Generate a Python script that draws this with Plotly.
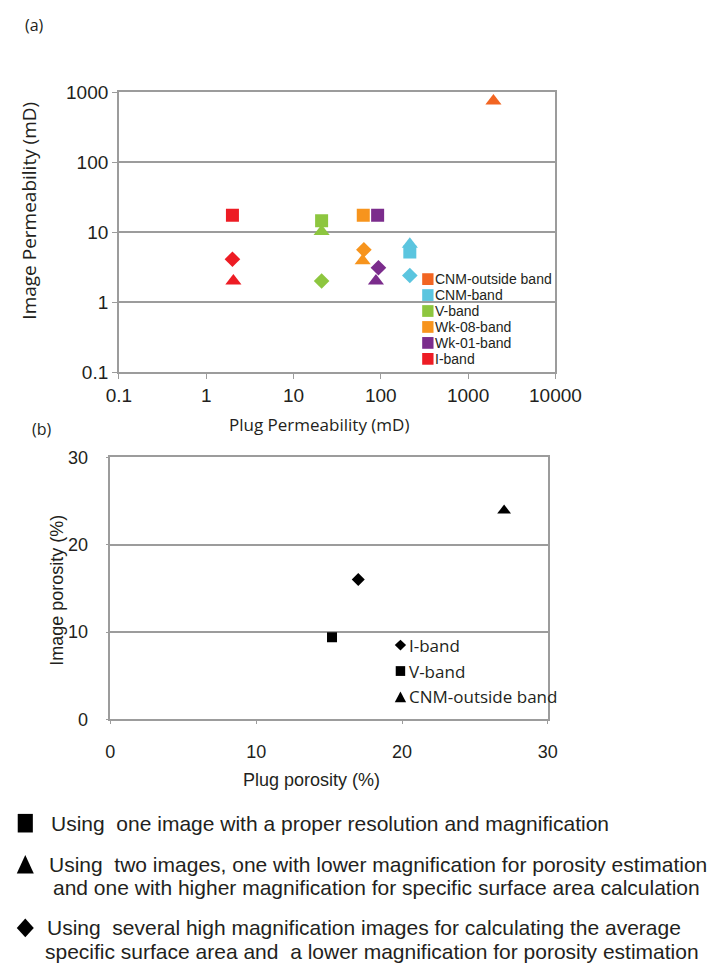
import plotly.graph_objects as go

# ---------------------------------------------------------------
# (a) Plug vs image permeability, one colour per band,
#     marker symbol = imaging method used for the estimate
# ---------------------------------------------------------------
perm_bands = ["CNM-outside band", "CNM-band", "V-band", "Wk-08-band", "Wk-01-band", "I-band"]
perm_colors = ["#F26522", "#5BC5DF", "#8DC63F", "#F7941D", "#7B2C8C", "#ED1C24"]
perm_plug = [
    [1950],
    [215, 215, 215],
    [21, 21, 21],
    [63, 64, 62],
    [92, 94, 88],
    [2.0, 2.0, 2.05],
]
perm_image = [
    [750],
    [6.7, 5.2, 2.4],
    [14.5, 10.2, 2.0],
    [17.5, 5.6, 3.9],
    [17.5, 3.1, 2.0],
    [17.5, 4.1, 2.0],
]
perm_method = [
    ["triangle-up"],
    ["triangle-up", "square", "diamond"],
    ["square", "triangle-up", "diamond"],
    ["square", "diamond", "triangle-up"],
    ["square", "diamond", "triangle-up"],
    ["square", "diamond", "triangle-up"],
]
perm_ticks = [0.1, 1, 10, 100, 1000, 10000]
perm_ticktext = ["0.1", "1", "10", "100", "1000", "10000"]
img_perm_ticks = [0.1, 1, 10, 100, 1000]
img_perm_ticktext = ["0.1", "1", "10", "100", "1000"]

# ---------------------------------------------------------------
# (b) Plug vs image porosity
# ---------------------------------------------------------------
por_bands = ["I-band", "V-band", "CNM-outside band"]
por_plug = [17.0, 15.2, 27.0]
por_image = [16.0, 9.4, 23.9]
por_method = ["diamond", "square", "triangle-up"]
por_ticks = [0, 10, 20, 30]

# ---------------------------------------------------------------
# Imaging methods explained under the plots
# ---------------------------------------------------------------
method_symbols = ["square", "triangle-up", "diamond"]
method_lines = [
    ["Using\u00a0 one image with a proper resolution and magnification"],
    ["Using\u00a0 two images, one with lower magnification for porosity estimation",
     "and one with higher magnification for specific surface area calculation"],
    ["Using\u00a0 several high magnification images for calculating the average",
     "specific surface area and\u00a0 a lower magnification for porosity estimation"],
]

# ---------------------------------------------------------------
# page geometry: layout positions below are in pixels
# ---------------------------------------------------------------
W, H = 709, 980


def fx(x):
    return x / W


def fy(y):
    return 1 - y / H


GRID = "#9c9c9c"
INK = "#231F20"
HUMANIST = "Open Sans"
GROTESK = "Liberation Sans"

SYM_SIZE_A = {"square": 13, "triangle-up": 14, "diamond": 12}
SYM_SIZE_B = {"square": 10, "triangle-up": 12, "diamond": 10}

fig = go.Figure()

for band, color, xs, ys, syms in zip(perm_bands, perm_colors, perm_plug, perm_image, perm_method):
    fig.add_trace(go.Scatter(
        x=xs, y=ys, mode="markers", name=band,
        marker=dict(symbol=syms, color=color, opacity=1,
                    size=[SYM_SIZE_A[s] for s in syms], line=dict(width=0)),
        xaxis="x", yaxis="y", showlegend=False,
    ))

for band, xv, yv, sym in zip(por_bands, por_plug, por_image, por_method):
    fig.add_trace(go.Scatter(
        x=[xv], y=[yv], mode="markers", name=band,
        marker=dict(symbol=sym, color="#000000", opacity=1,
                    size=SYM_SIZE_B[sym], line=dict(width=0)),
        xaxis="x2", yaxis="y2", showlegend=False,
    ))

axis_common = dict(
    showline=True, linecolor=GRID, linewidth=1.5, mirror=True,
    zeroline=False, ticks="outside", tickcolor=GRID, tickwidth=1.2,
)

fig.update_layout(
    width=W, height=H,
    margin=dict(l=0, r=0, t=0, b=0),
    paper_bgcolor="white", plot_bgcolor="white",
    showlegend=False,
    xaxis=dict(
        domain=[fx(112), fx(574)], anchor="y", type="log", range=[-1, 4],
        tickvals=perm_ticks, ticktext=perm_ticktext, ticklen=5,
        showgrid=False, tickfont=dict(family=GROTESK, size=19, color=INK),
        **axis_common,
    ),
    yaxis=dict(
        domain=[fy(370), fy(84)], anchor="x", type="log", range=[-1, 3],
        tickvals=img_perm_ticks, ticktext=img_perm_ticktext, ticklen=5,
        showgrid=True, gridcolor=GRID, gridwidth=1.5,
        tickfont=dict(family=GROTESK, size=19, color=INK),
        **axis_common,
    ),
    xaxis2=dict(
        domain=[fx(103), fx(566)], anchor="y2", range=[0, 30],
        tickvals=por_ticks, ticklen=3, ticklabelstandoff=12,
        showgrid=False, tickfont=dict(family=GROTESK, size=18, color=INK),
        **axis_common,
    ),
    yaxis2=dict(
        domain=[fy(725), fy(457)], anchor="x2", range=[0, 30],
        tickvals=por_ticks, ticklen=3, ticklabelstandoff=14,
        showgrid=True, gridcolor=GRID, gridwidth=1.5,
        tickfont=dict(family=GROTESK, size=18, color=INK),
        **axis_common,
    ),
)

annotations = []
shapes = []


def label(text, x, y, size, family=HUMANIST, xanchor="left", angle=0):
    annotations.append(dict(
        text=text, x=fx(x), y=fy(y), xref="paper", yref="paper",
        xanchor=xanchor, yanchor="middle", showarrow=False, textangle=angle,
        font=dict(family=family, size=size, color=INK),
    ))


def key_symbol(sym, cx, cy, w, h, color):
    if sym == "square":
        shapes.append(dict(type="rect", xref="paper", yref="paper",
                           x0=fx(cx - w / 2), x1=fx(cx + w / 2),
                           y0=fy(cy + h / 2), y1=fy(cy - h / 2),
                           fillcolor=color, line=dict(width=0)))
        return
    if sym == "triangle-up":
        pts = [(cx - w / 2, cy + h / 2), (cx + w / 2, cy + h / 2), (cx, cy - h / 2)]
    else:
        pts = [(cx - w / 2, cy), (cx, cy + h / 2), (cx + w / 2, cy), (cx, cy - h / 2)]
    path = "M " + " L ".join(f"{fx(px):.5f},{fy(py):.5f}" for px, py in pts) + " Z"
    shapes.append(dict(type="path", xref="paper", yref="paper", path=path,
                       fillcolor=color, line=dict(width=0)))


# panel letters
label("(a)", 11, 15, 16)
label("(b)", 18, 428, 16)

# axis titles
label("Image Permeability (mD)", 17, 205, 19, angle=-90, xanchor="center")
label("Plug Permeability (mD)", 324, 424, 17, xanchor="center")
label("Image porosity (%)", 47, 593, 18, family=GROTESK, angle=-90, xanchor="center")
label("Plug porosity (%)", 316, 787, 18, family=GROTESK, xanchor="center")

# key for panel (a)
for i, (band, color) in enumerate(zip(perm_bands, perm_colors)):
    row_y = 275 + i * 16.3
    key_symbol("square", 439, row_y, 12, 12, color)
    label(band, 444, row_y, 14, family=GROTESK)

# key for panel (b)
for i, (band, sym) in enumerate(zip(por_bands, por_method)):
    row_y = 649 + i * 26.5
    key_symbol(sym, 410, row_y, 12 if sym != "square" else 10, 11 if sym != "square" else 10, "#000000")
    label(band, 417, row_y, 17)

# imaging method notes
note_rows = [[831], [873, 897], [938, 962]]
note_x = [[38], [36, 40], [34, 32]]
for sym, lines, rows, xs in zip(method_symbols, method_lines, note_rows, note_x):
    key_symbol(sym, 13, rows[0], 18 if sym != "square" else 16, 19, "#000000")
    for text, ry, rx in zip(lines, rows, xs):
        label(text, rx, ry, 21, family=GROTESK)

fig.update_layout(annotations=annotations, shapes=shapes)

fig.write_html("out.html")
